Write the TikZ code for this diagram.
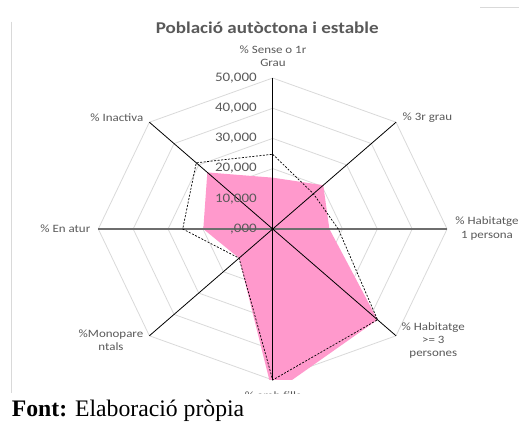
\documentclass[tikz,border=0pt]{standalone}
\usepackage{fontspec}
\setmainfont{Liberation Serif}
\newfontfamily\chartfont[FakeStretch=1.155]{Carlito}
\definecolor{labelgray}{RGB}{89,89,89}
\definecolor{gridgray}{RGB}{217,217,217}
\definecolor{haxisgray}{RGB}{110,110,110}
\definecolor{pinkfill}{RGB}{255,153,204}
\begin{document}
\begin{tikzpicture}[x=1pt,y=-1pt,
  gridline/.style={draw=gridgray,line width=0.8pt},
  axisline/.style={draw=black,line width=0.8pt},
  haxis/.style={draw=haxisgray,line width=1.4pt},
  dashline/.style={draw=black,line width=0.7pt,dash pattern=on 2pt off 1.5pt},
  catlabel/.style={font=\chartfont\fontsize{11.2}{13.4}\selectfont,text=labelgray,align=center,inner sep=0pt},
  vallabel/.style={font=\chartfont\fontsize{13}{15}\selectfont,text=labelgray,inner sep=0pt,anchor=east},
  framegray/.style={draw=gridgray,line width=0.8pt}]
\useasboundingbox (0,0) rectangle (519,428);
\coordinate (O) at (272.7,229);
% frame fragments
\coordinate (f1) at (11.7,21.7);
\coordinate (f2) at (11.7,393.3);
\coordinate (f3) at (480,7);
\coordinate (f4) at (519,7);
\draw[framegray] (f1) -- (f2);
\draw[framegray] (f3) -- (f4);
% title
\node[font=\chartfont\bfseries\fontsize{16.5}{18}\selectfont,text=labelgray,anchor=base] (title) at (267.2,33.3) {Població autòctona i estable};
\begin{scope}
\clip (0,0) rectangle (519,393.3);
\begin{scope}[shift={(O)},x=174.4pt,y=151pt]
  \foreach \k in {0,...,7} \coordinate (a\k) at ({90-45*\k}:1);
  \foreach \r in {0.2,0.4,0.6,0.8,1}
    \draw[gridline] (90:\r) -- (45:\r) -- (0:\r) -- (-45:\r) -- (-90:\r) -- (-135:\r) -- (180:\r) -- (135:\r) -- cycle;
  \begin{scope}
    \clip (-2,-0.9967) rectangle (2,2);
    \fill[pinkfill] (90:0.34) -- (45:0.41) -- (0:0.325) -- (-45:0.85) -- (-90:1.09) -- (-135:0.273) -- (180:0.398) -- (135:0.53) -- cycle;
  \end{scope}
  \draw[haxis] (a6) -- (a2);
  \foreach \k in {0,1,3,4,5,7} \draw[axisline] (O) -- (a\k);
  \fill[black] (O) circle[radius=0.008];
  \draw[dashline] (90:0.495) -- (45:0.33) -- (0:0.376) -- (-45:0.85) -- (-90:1.0) -- (-135:0.273) -- (180:0.516) -- (135:0.62) -- cycle;
\end{scope}
\node[catlabel] (l4) at (273,395.5) {\% amb fills};
\end{scope}
% value labels
\node[vallabel] (v0) at (257,229) {,000};
\node[vallabel] (v1) at (257,198.8) {10,000};
\node[vallabel] (v2) at (257,168.6) {20,000};
\node[vallabel] (v3) at (257,138.4) {30,000};
\node[vallabel] (v4) at (257,108.2) {40,000};
\node[vallabel] (v5) at (257,78) {50,000};
% category labels
\node[catlabel] (l0) at (273,56.5) {\% Sense o 1r\\Grau};
\node[catlabel,anchor=west] (l1) at (402.5,117.5) {\% 3r grau};
\node[catlabel] (l2) at (487,228.5) {\% Habitatge\\1 persona};
\node[catlabel] (l3) at (433.3,340.5) {\% Habitatge\\>= 3\\persones};
\node[catlabel] (l5) at (111,340.5) {\%Monopare\\ntals};
\node[catlabel,anchor=east] (l6) at (90.5,228.5) {\% En atur};
\node[catlabel,anchor=east] (l7) at (143.5,117.5) {\% Inactiva};
% source
\node[font=\fontsize{23.7}{26}\selectfont,anchor=base west,inner sep=0pt] (src) at (11.7,416.7) {\textbf{Font:} Elaboració pròpia};
\end{tikzpicture}
\end{document}
